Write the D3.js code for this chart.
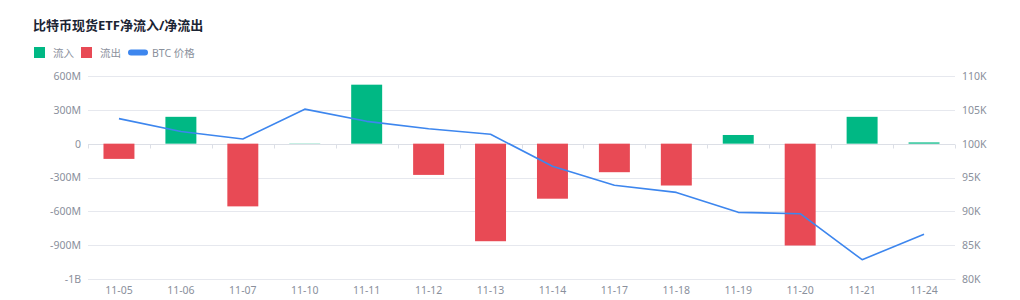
<!DOCTYPE html>
<meta charset="utf-8">
<html>
<style>
  body { margin: 0; background: #fff; }
  svg text { font-family: "Noto Sans", "Noto Sans CJK SC", sans-serif; }
  .title { font-size: 13px; font-weight: 700; fill: #1b2433; }
  .legend text { font-size: 10.5px; fill: #8a909c; }
  .axis text { font-size: 10.5px; fill: #8a909c; }
</style>
<body>
<svg width="1020" height="300"></svg>
<script src="https://d3js.org/d3.v7.min.js"></script>
<script>

var dates = ["11-05","11-06","11-07","11-10","11-11","11-12","11-13","11-14","11-17","11-18","11-19","11-20","11-21","11-24"];
var netFlow = [-135e6, 238e6, -556e6, 2e6, 523e6, -277e6, -865e6, -488e6, -253e6, -371e6, 77e6, -903e6, 238e6, 11e6];
var btcPrice = [103700, 101800, 100700, 105100, 103300, 102200, 101400, 96650, 93850, 92800, 89850, 89650, 82850, 86600];
var leftTicks = [600e6, 300e6, 0, -300e6, -600e6, -900e6, -1200e6];
var rightTicks = [110000, 105000, 100000, 95000, 90000, 85000, 80000];

var svg = d3.select("svg");
var m = { left: 88, right: 955, top: 76, bottom: 279 };

var x = d3.scaleBand().domain(dates).range([m.left, m.right]);
var yL = d3.scaleLinear().domain([-1200e6, 600e6]).range([m.bottom, m.top]);
var yR = d3.scaleLinear().domain([80000, 110000]).range([m.bottom, m.top]);

function fmtMoney(v) {
  if (v === 0) return "0";
  if (Math.abs(v) >= 1e9) return Math.trunc(v / 1e9) + "B";
  return (v / 1e6) + "M";
}

// title
svg.append("text").attr("class", "title").attr("x", 33).attr("y", 30)
  .text("比特币现货ETF净流入/净流出");

// legend
var lg = svg.append("g").attr("class", "legend");
lg.append("rect").attr("x", 34).attr("y", 47).attr("width", 11).attr("height", 11).attr("fill", "#00b884");
lg.append("text").attr("x", 53).attr("y", 56.5).text("流入");
lg.append("rect").attr("x", 81).attr("y", 47).attr("width", 11).attr("height", 11).attr("fill", "#e84a55");
lg.append("text").attr("x", 100).attr("y", 56.5).text("流出");
lg.append("rect").attr("x", 128).attr("y", 49.5).attr("width", 20).attr("height", 6).attr("rx", 3).attr("fill", "#3d86ee");
lg.append("text").attr("x", 152).attr("y", 56.5).text("BTC 价格");

// grid
svg.append("g").selectAll("line").data(leftTicks.filter(function(d) { return d !== 0; }))
  .enter().append("line")
  .attr("x1", m.left).attr("x2", m.right)
  .attr("y1", function(d) { return Math.round(yL(d)) + 0.5; })
  .attr("y2", function(d) { return Math.round(yL(d)) + 0.5; })
  .attr("stroke", "#e6e8ee").attr("stroke-width", 1);

// left axis
var la = svg.append("g").attr("class", "axis")
  .attr("transform", "translate(" + m.left + ",0)")
  .call(d3.axisLeft(yL).tickValues(leftTicks).tickFormat(fmtMoney).tickSize(0).tickPadding(7));
la.select(".domain").remove();

// right axis
var ra = svg.append("g").attr("class", "axis")
  .attr("transform", "translate(" + m.right + ",0)")
  .call(d3.axisRight(yR).tickValues(rightTicks).tickFormat(function(d) { return (d / 1000) + "K"; }).tickSize(0).tickPadding(7));
ra.select(".domain").remove();

// zero axis with ticks between categories
var z = Math.round(yL(0)) + 0.5;
svg.append("line").attr("x1", m.left).attr("x2", m.right).attr("y1", z).attr("y2", z)
  .attr("stroke", "#dcdfe6");
svg.append("g").selectAll("line").data(dates.concat(["end"]))
  .enter().append("line")
  .attr("x1", function(d, i) { return Math.round(m.left + i * x.step()) + 0.5; })
  .attr("x2", function(d, i) { return Math.round(m.left + i * x.step()) + 0.5; })
  .attr("y1", z).attr("y2", z + 4)
  .attr("stroke", "#dcdfe6");

// bars
svg.append("g").selectAll("rect").data(dates)
  .enter().append("rect")
  .attr("x", function(d) { return x(d) + x.bandwidth() * 0.25; })
  .attr("width", x.bandwidth() * 0.5)
  .attr("y", function(d, i) { return yL(Math.max(0, netFlow[i])); })
  .attr("height", function(d, i) { return Math.abs(yL(netFlow[i]) - yL(0)); })
  .attr("fill", function(d, i) { return netFlow[i] >= 0 ? "#00b884" : "#e84a55"; });

// bottom axis labels
var xa = svg.append("g").attr("class", "axis")
  .attr("transform", "translate(0," + m.bottom + ")")
  .call(d3.axisBottom(x).tickSize(0).tickPadding(8));
xa.select(".domain").attr("stroke", "#e6e8ee");

// BTC line
svg.append("path").datum(btcPrice)
  .attr("fill", "none").attr("stroke", "#3d86ee").attr("stroke-width", 1.6)
  .attr("stroke-linejoin", "round")
  .attr("d", d3.line()
    .x(function(d, i) { return x(dates[i]) + x.bandwidth() / 2; })
    .y(function(d) { return yR(d); }));

</script>
</body>
</html>
